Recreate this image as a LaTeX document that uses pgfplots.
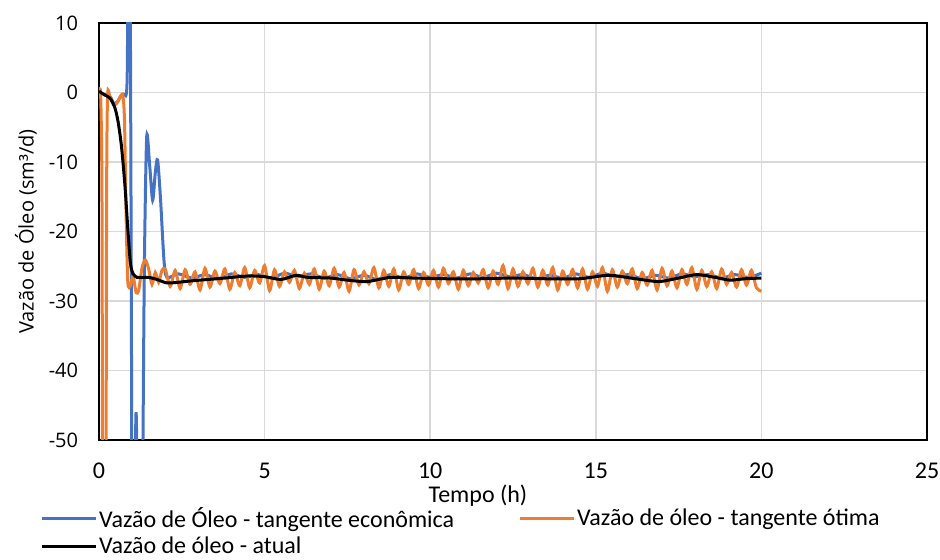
\documentclass[border=0pt]{standalone}
\usepackage{fontspec}
\usepackage{pgfplots}
\pgfplotsset{compat=1.18}
\setmainfont{Carlito}
\newfontfamily\yfont{Open Sans}
\definecolor{serieAzul}{HTML}{4472C4}
\definecolor{serieLaranja}{HTML}{ED7D31}
\definecolor{grade}{HTML}{D9D9D9}
\newcommand{\xfont}{\fontsize{18}{21}\selectfont}
\newcommand{\yfnt}{\yfont\fontsize{15}{18}\selectfont}

\begin{document}
\begin{tikzpicture}
\path[use as bounding box] (-74.25pt,-90pt) rectangle (630.75pt,330pt);
\begin{axis}[
  at={(0pt,0pt)}, anchor=south west,
  scale only axis, width=621pt, height=312.75pt,
  xmin=0, xmax=25, ymin=-50, ymax=10,
  xtick={0,5,...,25}, ytick={-50,-40,...,10},
  major tick length=0pt,
  grid=major,
  major grid style={grade, line width=1.3pt},
  axis line style={black, line width=1.4pt},
  /pgf/number format/assume math mode=true,
  xticklabel style={font=\xfont, anchor=north, inner sep=0pt, yshift=-17pt},
  yticklabel style={font=\yfnt, anchor=east, inner sep=0pt, xshift=-15.5pt},
  xlabel={Tempo (h)},
  ylabel={Vazão de Óleo (sm³/d)},
  every axis x label/.style={at={(axis description cs:0.4577,0)}, anchor=base, yshift=-47pt, font=\xfont},
  every axis y label/.style={at={(axis description cs:-0.0882,0.5)}, rotate=90, anchor=center, font=\yfnt},
  legend columns=2,
  legend cell align=left,
  legend style={at={(axis description cs:-0.0713,-0.158)}, anchor=north west,
    draw=none, fill=none, inner sep=0pt, font=\xfont, row sep=3.5pt,
    nodes={inner sep=1pt},
    /tikz/every even column/.append style={column sep=47pt}},
  legend image code/.code={\draw[#1] (0pt,0pt) -- (41pt,0pt);},
  every axis plot/.append style={line width=2.25pt, smooth, tension=0.45},
]
% Vazão de óleo com a tangente econômica
\addplot[serieAzul] coordinates {
 (0,0) (0.33,-0.6) (0.45,-1.6) (0.56,-1.3) (0.66,-0.5) (0.76,-0.3) (0.85,2)
 (0.89,30) (0.93,30) (0.97,-20)
 (1.01,-75) (1.07,-62) (1.12,-46) (1.17,-62) (1.24,-80) (1.31,-60) (1.37,-25)
 (1.44,-6.4) (1.53,-10.5) (1.62,-15.5) (1.7,-11.5) (1.77,-9.7) (1.86,-15.5)
 (1.96,-24) (2.05,-26.6) (2.4,-26.1) (2.8,-26.7) (3.2,-26.2) (3.6,-26.8)
 (4.0,-26.1) (4.4,-26.6) (4.8,-26.2) (5.2,-26.7) (5.6,-26.0) (6.0,-26.5)
 (6.4,-26.1) (6.8,-26.7) (7.2,-26.2) (7.6,-26.8) (8.0,-26.3) (8.4,-26.9)
 (8.8,-26.2) (9.2,-26.7) (9.6,-26.1) (10.0,-26.6) (10.4,-26.2) (10.8,-26.7)
 (11.2,-26.1) (11.6,-26.6) (12.0,-26.0) (12.4,-26.5) (12.8,-26.2) (13.2,-26.8)
 (13.6,-26.3) (14.0,-26.7) (14.4,-26.1) (14.8,-26.6) (15.2,-26.0) (15.6,-26.5)
 (16.0,-26.2) (16.4,-26.8) (16.8,-26.3) (17.2,-26.7) (17.6,-26.1) (18.0,-26.5)
 (18.4,-26.2) (18.8,-26.7) (19.2,-26.2) (19.6,-26.6) (20.0,-26.0)
};
\addlegendentry{Vazão de Óleo - tangente econômica}
% Vazão de óleo com a tangente ótima
\addplot[serieLaranja] coordinates {
 (0,0) (0.05,-0.4) (0.09,-15) (0.12,-75) (0.2,-75) (0.23,-15) (0.26,-0.4)
 (0.33,-0.6) (0.45,-1.8) (0.56,-1.4) (0.66,-0.5) (0.72,-0.4) (0.77,-4)
 (0.82,-18) (0.87,-27.3) (0.95,-27.8) (1.03,-26.4) (1.12,-28.8) (1.2,-28.4)
 (1.3,-25.2) (1.4,-24.1) (1.5,-25.4) (1.6,-27.6) (1.7,-25.9) (1.8,-27.3)
 (1.9,-25.6)
 (2.0,-25.4) (2.15,-27.9) (2.3,-25.6) (2.45,-28.2) (2.6,-25.5) (2.75,-27.6)
 (2.9,-25.8) (3.05,-28.4) (3.2,-25.3) (3.35,-28.0) (3.5,-25.7) (3.65,-27.5)
 (3.8,-25.4) (3.95,-28.3) (4.1,-25.9) (4.25,-27.8) (4.4,-25.2) (4.55,-28.1)
 (4.7,-25.6) (4.85,-27.4) (5.0,-24.9) (5.15,-28.5) (5.3,-25.5) (5.45,-27.9)
 (5.6,-25.8) (5.75,-27.3) (5.9,-25.6) (6.05,-28.2) (6.2,-26.0) (6.35,-27.6)
 (6.5,-25.4) (6.65,-28.3) (6.8,-25.7) (6.95,-27.8) (7.1,-25.3) (7.25,-28.0)
 (7.4,-25.9) (7.55,-28.6) (7.7,-25.5) (7.85,-27.7) (8.0,-25.8) (8.15,-27.5)
 (8.3,-25.2) (8.45,-28.1) (8.6,-25.6) (8.75,-27.9) (8.9,-25.4) (9.05,-28.4)
 (9.2,-25.8) (9.35,-27.6) (9.5,-25.5) (9.65,-28.2) (9.8,-25.9) (9.95,-27.7)
 (10.1,-25.6) (10.25,-28.0) (10.4,-25.3) (10.55,-27.5) (10.7,-25.8) (10.85,-28.3)
 (11.0,-25.6) (11.15,-27.8) (11.3,-25.9) (11.45,-27.4) (11.6,-25.5) (11.75,-28.1)
 (11.9,-25.7) (12.05,-27.6) (12.2,-24.9) (12.35,-28.2) (12.5,-25.4) (12.65,-27.9)
 (12.8,-25.8) (12.95,-27.5) (13.1,-25.3) (13.25,-28.0) (13.4,-25.6) (13.55,-27.7)
 (13.7,-25.2) (13.85,-28.4) (14.0,-25.7) (14.15,-27.6) (14.3,-25.5) (14.45,-28.1)
 (14.6,-25.4) (14.75,-28.3) (14.9,-25.8) (15.05,-27.9) (15.2,-25.2) (15.35,-28.6)
 (15.5,-25.5) (15.65,-28.0) (15.8,-25.7) (15.95,-27.5) (16.1,-25.4) (16.25,-28.2)
 (16.4,-25.9) (16.55,-27.7) (16.7,-25.6) (16.85,-28.4) (17.0,-25.3) (17.15,-27.8)
 (17.3,-25.7) (17.45,-28.1) (17.6,-25.5) (17.75,-27.6) (17.9,-25.2) (18.05,-28.3)
 (18.2,-25.6) (18.35,-27.9) (18.5,-25.8) (18.65,-28.2) (18.8,-25.4) (18.95,-27.6)
 (19.1,-25.9) (19.25,-28.0) (19.4,-25.5) (19.55,-27.7) (19.7,-25.6) (19.85,-28.1)
 (20.0,-28.6)
};
\addlegendentry{Vazão de óleo - tangente ótima}
% Vazão de óleo atual
\addplot[black] coordinates {
 (0,0.2) (0.15,-0.3) (0.33,-0.8) (0.48,-2.2) (0.58,-4.3) (0.68,-7.8)
 (0.78,-13.2) (0.88,-20.3) (0.95,-24.6) (1.03,-26.1) (1.15,-26.6) (1.3,-26.6)
 (1.5,-26.6) (1.75,-26.9) (2.05,-27.4) (2.4,-27.3) (2.8,-27.1) (3.3,-26.9)
 (3.8,-26.7) (4.5,-26.4) (5.0,-26.5) (5.5,-26.9) (5.95,-26.3) (6.3,-26.6)
 (7.0,-26.7) (7.5,-27.0) (8.1,-27.2) (8.8,-26.6) (9.5,-26.7) (10.5,-26.8)
 (11.5,-26.8) (12.5,-26.7) (13.5,-26.8) (14.5,-26.8) (15.4,-26.3) (16.2,-26.8)
 (16.9,-27.2) (17.5,-26.7) (18.05,-26.2) (18.6,-26.6) (19.05,-27.0) (19.5,-26.8)
 (20.0,-26.7)
};
\addlegendentry{Vazão de óleo - atual}
\end{axis}
\end{tikzpicture}
\end{document}
